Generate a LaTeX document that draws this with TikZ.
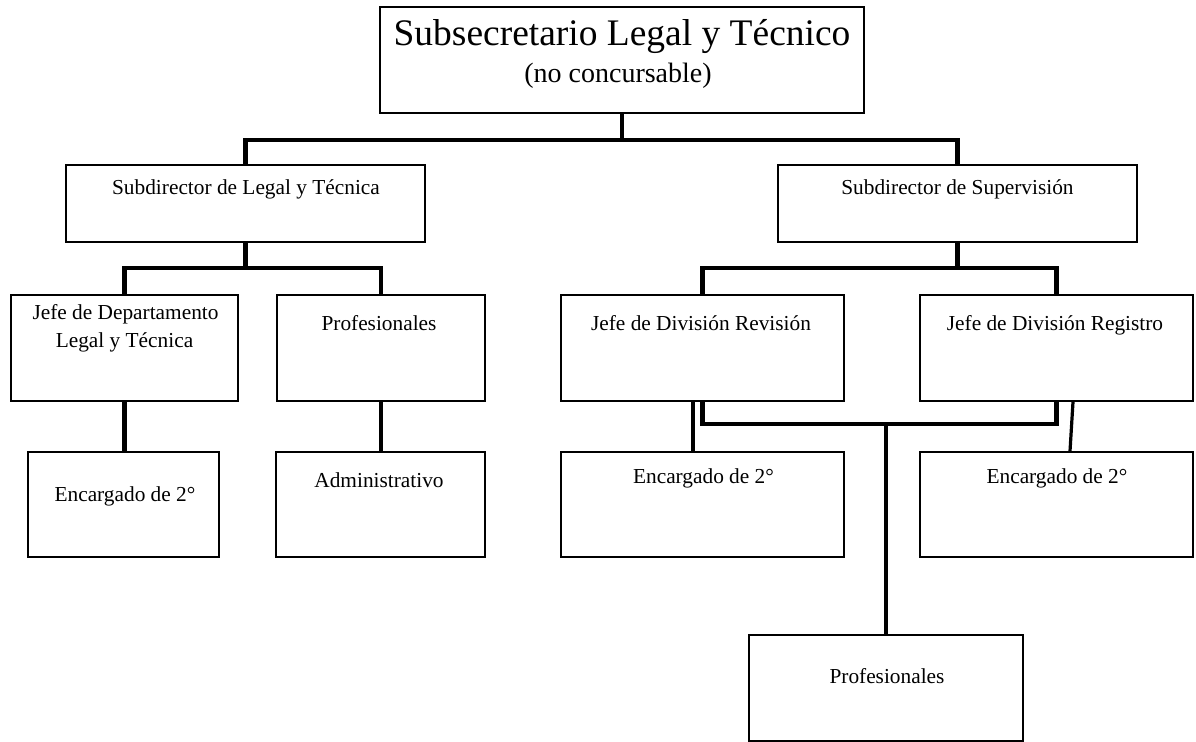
\documentclass[tikz,border=0pt]{standalone}
\usepackage{fontspec}
\setmainfont{Liberation Serif}
\usetikzlibrary{calc}
\begin{document}
\begin{tikzpicture}[x=0.75pt,y=-0.75pt,
  box/.style={draw, line width=1.3pt, rectangle, inner sep=0pt},
  conn/.style={line width=3.2pt},
  thinconn/.style={line width=2.4pt},
  lbl/.style={anchor=base, inner sep=0pt, font=\fontsize{16}{19}\selectfont},
  biglbl/.style={anchor=base, inner sep=0pt, font=\fontsize{28.1}{33}\selectfont},
  midlbl/.style={anchor=base, inner sep=0pt, font=\fontsize{21}{25}\selectfont}]
\useasboundingbox (0,0) rectangle (1196,742);

% boxes
\node[box, minimum width=363pt, minimum height=79.5pt] (top) at (622,60) {};
\node[box, minimum width=269.25pt, minimum height=57.75pt] (subL) at (245.5,203.5) {};
\node[box, minimum width=269.25pt, minimum height=57.75pt] (subS) at (957.5,203.5) {};
\node[box, minimum width=170.25pt, minimum height=79.5pt] (jefeD) at (124.5,348) {};
\node[box, minimum width=156pt, minimum height=79.5pt] (profL) at (381,348) {};
\node[box, minimum width=212.25pt, minimum height=79.5pt] (rev) at (702.5,348) {};
\node[box, minimum width=204.75pt, minimum height=79.5pt] (reg) at (1056.5,348) {};
\node[box, minimum width=143.25pt, minimum height=78.75pt] (encL) at (123.5,504.5) {};
\node[box, minimum width=156.75pt, minimum height=78.75pt] (admin) at (380.5,504.5) {};
\node[box, minimum width=212.25pt, minimum height=78.75pt] (encM) at (702.5,504.5) {};
\node[box, minimum width=204.75pt, minimum height=78.75pt] (encR) at (1056.5,504.5) {};
\node[box, minimum width=205.5pt, minimum height=79.5pt] (profB) at (886,688) {};

% labels
\node[biglbl] (tTop1) at (622,46) {Subsecretario Legal y Técnico};
\node[midlbl] (tTop2) at (618,83) {(no concursable)};
\node[lbl] (tSubL) at (246,194) {Subdirector de Legal y Técnica};
\node[lbl] (tSubS) at (957.5,194) {Subdirector de Supervisión};
\node[lbl] (tJefeD1) at (125.5,319) {Jefe de Departamento};
\node[lbl] (tJefeD2) at (124.5,347) {Legal y Técnica};
\node[lbl] (tProfL) at (379,330) {Profesionales};
\node[lbl] (tRev) at (701,330) {Jefe de División Revisión};
\node[lbl] (tReg) at (1055,330) {Jefe de División Registro};
\node[lbl] (tEncL) at (125,501) {Encargado de 2°};
\node[lbl] (tAdmin) at (379,487) {Administrativo};
\node[lbl] (tEncM) at (703.5,483) {Encargado de 2°};
\node[lbl] (tEncR) at (1057,483) {Encargado de 2°};
\node[lbl] (tProfB) at (887,683) {Profesionales};

% connectors
\coordinate (busA) at (0,140);
\coordinate (busB) at (0,268);
\coordinate (busC) at (0,424);
\draw[conn] (top.south) -- (top.south |- busA);
\draw[conn] (subL.north) |- (busA -| subS.north) -- (subS.north);
\draw[conn] (subL.south) -- (subL.south |- busB);
\draw[conn] (jefeD.north) |- (busB -| profL.north) -- (profL.north);
\draw[conn] (subS.south) -- (subS.south |- busB);
\draw[conn] (rev.north) |- (busB -| reg.north) -- (reg.north);
\draw[conn] (jefeD.south) -- (jefeD.south |- encL.north);
\draw[conn] (profL.south) -- (profL.south |- admin.north);
\draw[conn] ($(rev.south)+(-9.5,0)$) -- ($(encM.north)+(-9.5,0)$);
\draw[conn] (rev.south) |- (busC -| reg.south) -- (reg.south);
\draw[conn] (profB.north |- busC) -- (profB.north);
\draw[thinconn] ($(reg.south)+(16.5,0)$) -- ($(encR.north)+(13.5,0)$);
\end{tikzpicture}
\end{document}
